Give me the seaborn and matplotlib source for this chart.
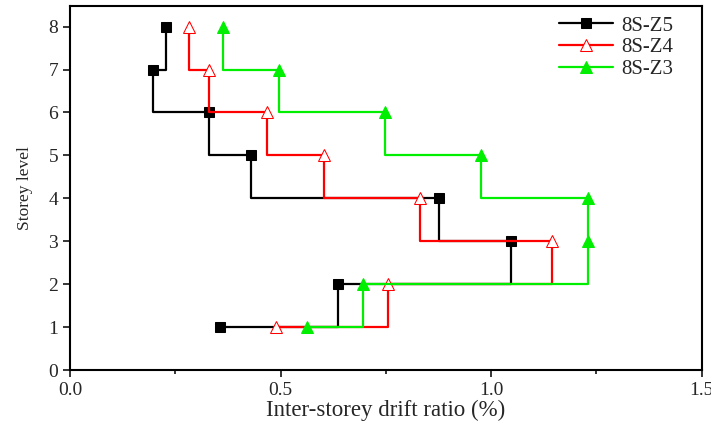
import matplotlib
matplotlib.use("Agg")
import matplotlib.pyplot as plt
from matplotlib.ticker import MultipleLocator, FormatStrFormatter
import seaborn as sns
import pandas as pd

storeys = [1, 2, 3, 4, 5, 6, 7, 8]
z5 = [0.356, 0.637, 1.046, 0.876, 0.430, 0.330, 0.198, 0.227]
z4 = [0.490, 0.756, 1.145, 0.832, 0.603, 0.467, 0.330, 0.283]
z3 = [0.563, 0.696, 1.229, 1.229, 0.975, 0.748, 0.496, 0.363]
series_names = ["8S-Z5", "8S-Z4", "8S-Z3"]

sns.set_style("ticks")
plt.rcParams["font.family"] = ["Liberation Serif", "DejaVu Serif"]

fig = plt.figure(figsize=(7.11, 4.30), dpi=100)
ax = fig.add_axes([0.0985, 0.1395, 0.8885, 0.8465])

styles = [
    dict(color="black", marker="s", markersize=7.5, markerfacecolor="black", markeredgecolor="black"),
    dict(color="#ff0000", marker="^", markersize=9, markerfacecolor="white", markeredgecolor="#ff0000"),
    dict(color="#00ee00", marker="^", markersize=9, markerfacecolor="#00ee00", markeredgecolor="#00ee00"),
]

for name, vals, st in zip(series_names, [z5, z4, z3], styles):
    df = pd.DataFrame({"drift": vals, "storey": storeys})
    sns.lineplot(data=df, x="drift", y="storey", sort=False, estimator=None,
                 drawstyle="steps-post", linewidth=1.6, label=name, ax=ax, **st)

ax.set_xlim(0, 1.5)
ax.set_ylim(0, 8.48)
ax.xaxis.set_major_locator(MultipleLocator(0.5))
ax.xaxis.set_minor_locator(MultipleLocator(0.25))
ax.yaxis.set_major_locator(MultipleLocator(1))
ax.xaxis.set_major_formatter(FormatStrFormatter("%.1f"))
ax.tick_params(axis="both", which="major", direction="out", length=5, width=1.3, labelsize=14, top=False, right=False)
ax.tick_params(axis="x", which="minor", direction="out", length=3, width=1.3)
for s in ax.spines.values():
    s.set_linewidth(1.5)
    s.set_color("black")

ax.set_xlabel("Inter-storey drift ratio (%)", fontsize=16.5, labelpad=1)
ax.set_ylabel("Storey level", fontsize=12.5, labelpad=11)

leg = ax.legend(loc="upper right", frameon=False, fontsize=15, handlelength=2.6,
                borderaxespad=0.0, labelspacing=0.1, handletextpad=0.4,
                bbox_to_anchor=(0.968, 0.995))

fig.savefig("out.png", dpi=100)
